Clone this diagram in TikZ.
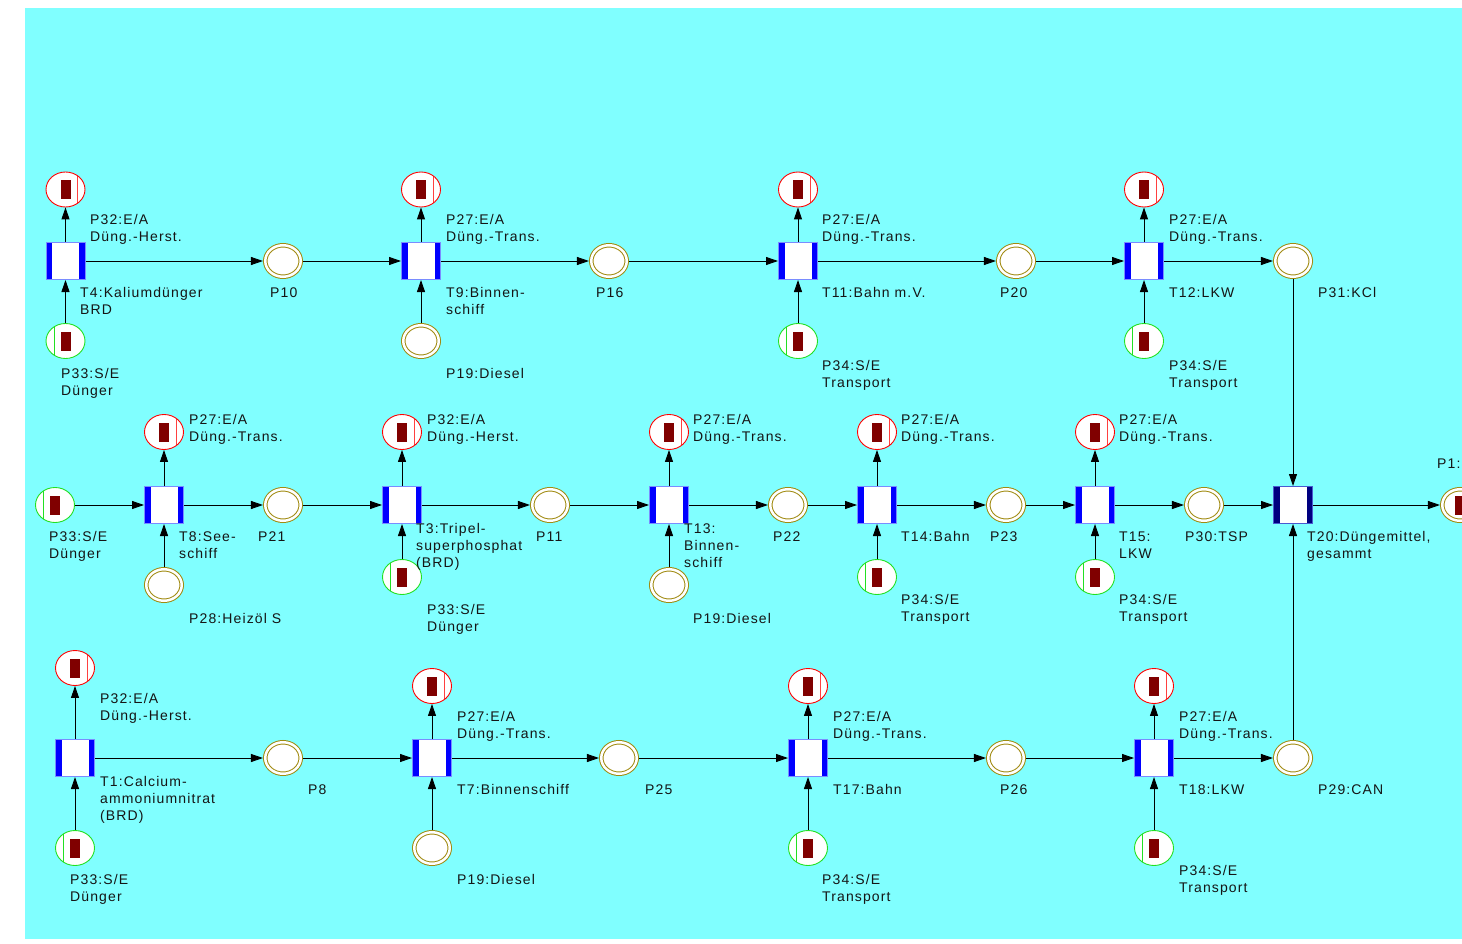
\documentclass[tikz,border=0pt]{standalone}
\usepackage{fontspec}
\setmainfont{Liberation Sans}[LetterSpace=8]
\usetikzlibrary{shapes.geometric,arrows.meta}
\definecolor{bgcyan}{HTML}{80FFFF}
\definecolor{tokred}{HTML}{800000}
\definecolor{olivec}{HTML}{A08A10}
\definecolor{tbar}{HTML}{0000FF}
\definecolor{tborder}{HTML}{7A8CFF}
\definecolor{navybar}{HTML}{000080}
\definecolor{navyborder}{HTML}{4A5AD0}
\definecolor{placegreen}{HTML}{22E022}
\definecolor{txt}{HTML}{151515}
\tikzset{
  trans/.style={rectangle, minimum width=39pt, minimum height=37pt, inner sep=0pt,
    draw=tborder, line width=1pt, fill=white,
    path picture={
      \fill[tbar] (path picture bounding box.south west) rectangle ([xshift=6pt]path picture bounding box.north west);
      \fill[tbar] (path picture bounding box.south east) rectangle ([xshift=-6pt]path picture bounding box.north east);}},
  sumtrans/.style={trans, draw=navyborder,
    path picture={
      \fill[navybar] (path picture bounding box.south west) rectangle ([xshift=6pt]path picture bounding box.north west);
      \fill[navybar] (path picture bounding box.south east) rectangle ([xshift=-6pt]path picture bounding box.north east);}},
  tokenbar/.style={path picture={
      \fill[tokred] ([shift={(-5pt,-9.5pt)}]path picture bounding box.center) rectangle ([shift={(5pt,9.5pt)}]path picture bounding box.center);}},
  placeE/.style={ellipse, minimum width=39pt, minimum height=35pt, inner sep=0pt,
    draw=red, line width=0.9pt, fill=white,
    path picture={
      \fill[tokred] ([shift={(-5pt,-9.5pt)}]path picture bounding box.center) rectangle ([shift={(5pt,9.5pt)}]path picture bounding box.center);
      \draw[red!75, line width=0.9pt] ([shift={(12pt,-20pt)}]path picture bounding box.center) -- ([shift={(12pt,20pt)}]path picture bounding box.center);}},
  placeS/.style={ellipse, minimum width=39pt, minimum height=35pt, inner sep=0pt,
    draw=placegreen, line width=0.9pt, fill=white,
    path picture={
      \fill[tokred] ([shift={(-5pt,-9.5pt)}]path picture bounding box.center) rectangle ([shift={(5pt,9.5pt)}]path picture bounding box.center);
      \draw[placegreen, line width=0.9pt] ([shift={(-11.5pt,-20pt)}]path picture bounding box.center) -- ([shift={(-11.5pt,20pt)}]path picture bounding box.center);}},
  placeP/.style={ellipse, minimum width=35.5pt, minimum height=31.5pt, inner sep=0pt,
    draw=olivec, line width=1pt, double=white, double distance=2.5pt, fill=white, outer sep=2.3pt},
  arc/.style={draw=black, line width=0.9pt, -{Triangle[length=12pt,width=8pt]}},
  % the base anchor of a multi-line label sits on its last line
  lab/.style={anchor=base west, inner sep=0pt, align=left, text=txt,
    font=\fontsize{14}{17}\selectfont},
}
\begin{document}
\begin{tikzpicture}[x=1pt,y=-1pt]
\useasboundingbox (0,0) rectangle (1462,944);
\clip (0,0) rectangle (1462,944);
\fill[bgcyan] (25,8) rectangle (1462,939);

% ---- upper line: potash fertiliser ----
\node[trans]  (t4)   at (65.5,261) {};
\node[placeE] (p32a) at (65.5,189.5) {};
\node[placeS] (p33a) at (65.5,341) {};
\node[placeP] (p10)  at (283,261) {};
\node[trans]  (t9)   at (421,261) {};
\node[placeE] (p27a) at (421,189.5) {};
\node[placeP] (p19a) at (421,341) {};
\node[placeP] (p16)  at (609,261) {};
\node[trans]  (t11)  at (798,261) {};
\node[placeE] (p27b) at (798,189.5) {};
\node[placeS] (p34a) at (798,341) {};
\node[placeP] (p20)  at (1016,261) {};
\node[trans]  (t12)  at (1144,261) {};
\node[placeE] (p27c) at (1144,189.5) {};
\node[placeS] (p34b) at (1144,341) {};
\node[placeP] (p31)  at (1293,261) {};

\node[lab] (lp32a) at (90,241) {P32:E/A\\Düng.-Herst.};
\node[lab] (lt4)   at (80,314) {T4:Kaliumdünger\\BRD};
\node[lab] (lp33a) at (61,395) {P33:S/E\\Dünger};
\node[lab] (lp10)  at (270,297) {P10};
\node[lab] (lp27a) at (446,241) {P27:E/A\\Düng.-Trans.};
\node[lab] (lt9)   at (446,314) {T9:Binnen-\\schiff};
\node[lab] (lp19a) at (446,378) {P19:Diesel};
\node[lab] (lp16)  at (596,297) {P16};
\node[lab] (lp27b) at (822,241) {P27:E/A\\Düng.-Trans.};
\node[lab] (lt11)  at (822,297) {T11:Bahn m.V.};
\node[lab] (lp34a) at (822,387) {P34:S/E\\Transport};
\node[lab] (lp20)  at (1000,297) {P20};
\node[lab] (lp27c) at (1169,241) {P27:E/A\\Düng.-Trans.};
\node[lab] (lt12)  at (1169,297) {T12:LKW};
\node[lab] (lp34b) at (1169,387) {P34:S/E\\Transport};
\node[lab] (lp31)  at (1318,297) {P31:KCl};

% ---- middle line: triple superphosphate ----
\node[placeS] (p33b) at (55,505) {};
\node[trans]  (t8)   at (164,505) {};
\node[placeE] (p27d) at (164,432) {};
\node[placeP] (p28)  at (164,585) {};
\node[placeP] (p21)  at (283,505) {};
\node[trans]  (t3)   at (402,505) {};
\node[placeE] (p32b) at (402,432) {};
\node[placeS] (p33c) at (402,577) {};
\node[placeP] (p11)  at (550,505) {};
\node[trans]  (t13)  at (669,505) {};
\node[placeE] (p27e) at (669,432) {};
\node[placeP] (p19b) at (669,585) {};
\node[placeP] (p22)  at (788,505) {};
\node[trans]  (t14)  at (877,505) {};
\node[placeE] (p27f) at (877,432) {};
\node[placeS] (p34c) at (877,577) {};
\node[placeP] (p23)  at (1006,505) {};
\node[trans]  (t15)  at (1095,505) {};
\node[placeE] (p27g) at (1095,432) {};
\node[placeS] (p34d) at (1095,577) {};
\node[placeP] (p30)  at (1204,505) {};
\node[sumtrans] (t20) at (1293,505) {};
\node[placeP, tokenbar] (p1) at (1460,505) {};

\node[lab] (lp33b) at (49,558) {P33:S/E\\Dünger};
\node[lab] (lp27d) at (189,441) {P27:E/A\\Düng.-Trans.};
\node[lab] (lt8)   at (179,558) {T8:See-\\schiff};
\node[lab] (lp28)  at (189,623) {P28:Heizöl S};
\node[lab] (lp21)  at (258,541) {P21};
\node[lab] (lp32b) at (427,441) {P32:E/A\\Düng.-Herst.};
\node[lab] (lt3)   at (416,567) {T3:Tripel-\\superphosphat\\(BRD)};
\node[lab] (lp33c) at (427,631) {P33:S/E\\Dünger};
\node[lab] (lp11)  at (536,541) {P11};
\node[lab] (lp27e) at (693,441) {P27:E/A\\Düng.-Trans.};
\node[lab] (lt13)  at (684,567) {T13:\\Binnen-\\schiff};
\node[lab] (lp19b) at (693,623) {P19:Diesel};
\node[lab] (lp22)  at (773,541) {P22};
\node[lab] (lp27f) at (901,441) {P27:E/A\\Düng.-Trans.};
\node[lab] (lt14)  at (901,541) {T14:Bahn};
\node[lab] (lp34c) at (901,621) {P34:S/E\\Transport};
\node[lab] (lp23)  at (990,541) {P23};
\node[lab] (lp27g) at (1119,441) {P27:E/A\\Düng.-Trans.};
\node[lab] (lt15)  at (1119,558) {T15:\\LKW};
\node[lab] (lp34d) at (1119,621) {P34:S/E\\Transport};
\node[lab] (lp30)  at (1185,541) {P30:TSP};
\node[lab] (lt20)  at (1307,558) {T20:Düngemittel,\\gesammt};
\node[lab] (lp1)   at (1437,468) {P1:};

% ---- lower line: calcium ammonium nitrate ----
\node[trans]  (t1)   at (75,758) {};
\node[placeE] (p32c) at (75,668) {};
\node[placeS] (p33d) at (75,848) {};
\node[placeP] (p8)   at (283,758) {};
\node[trans]  (t7)   at (432,758) {};
\node[placeE] (p27h) at (432,686) {};
\node[placeP] (p19c) at (432,848) {};
\node[placeP] (p25)  at (619,758) {};
\node[trans]  (t17)  at (808,758) {};
\node[placeE] (p27i) at (808,686) {};
\node[placeS] (p34e) at (808,848) {};
\node[placeP] (p26)  at (1006,758) {};
\node[trans]  (t18)  at (1154,758) {};
\node[placeE] (p27j) at (1154,686) {};
\node[placeS] (p34f) at (1154,848) {};
\node[placeP] (p29)  at (1293,758) {};

\node[lab] (lp32c) at (100,720) {P32:E/A\\Düng.-Herst.};
\node[lab] (lt1)   at (100,820) {T1:Calcium-\\ammoniumnitrat\\(BRD)};
\node[lab] (lp33d) at (70,901) {P33:S/E\\Dünger};
\node[lab] (lp8)   at (308,794) {P8};
\node[lab] (lp27h) at (457,738) {P27:E/A\\Düng.-Trans.};
\node[lab] (lt7)   at (457,794) {T7:Binnenschiff};
\node[lab] (lp19c) at (457,884) {P19:Diesel};
\node[lab] (lp25)  at (645,794) {P25};
\node[lab] (lp27i) at (833,738) {P27:E/A\\Düng.-Trans.};
\node[lab] (lt17)  at (833,794) {T17:Bahn};
\node[lab] (lp34e) at (822,901) {P34:S/E\\Transport};
\node[lab] (lp26)  at (1000,794) {P26};
\node[lab] (lp27j) at (1179,738) {P27:E/A\\Düng.-Trans.};
\node[lab] (lt18)  at (1179,794) {T18:LKW};
\node[lab] (lp34f) at (1179,892) {P34:S/E\\Transport};
\node[lab] (lp29)  at (1318,794) {P29:CAN};

% ---- arcs ----
\draw[arc] (t4) -- (p32a);
\draw[arc] (p33a) -- (t4);
\draw[arc] (t4) -- (p10);
\draw[arc] (p10) -- (t9);
\draw[arc] (t9) -- (p27a);
\draw[arc] (p19a) -- (t9);
\draw[arc] (t9) -- (p16);
\draw[arc] (p16) -- (t11);
\draw[arc] (t11) -- (p27b);
\draw[arc] (p34a) -- (t11);
\draw[arc] (t11) -- (p20);
\draw[arc] (p20) -- (t12);
\draw[arc] (t12) -- (p27c);
\draw[arc] (p34b) -- (t12);
\draw[arc] (t12) -- (p31);
\draw[arc] (p31) -- (t20);

\draw[arc] (p33b) -- (t8);
\draw[arc] (t8) -- (p27d);
\draw[arc] (p28) -- (t8);
\draw[arc] (t8) -- (p21);
\draw[arc] (p21) -- (t3);
\draw[arc] (t3) -- (p32b);
\draw[arc] (p33c) -- (t3);
\draw[arc] (t3) -- (p11);
\draw[arc] (p11) -- (t13);
\draw[arc] (t13) -- (p27e);
\draw[arc] (p19b) -- (t13);
\draw[arc] (t13) -- (p22);
\draw[arc] (p22) -- (t14);
\draw[arc] (t14) -- (p27f);
\draw[arc] (p34c) -- (t14);
\draw[arc] (t14) -- (p23);
\draw[arc] (p23) -- (t15);
\draw[arc] (t15) -- (p27g);
\draw[arc] (p34d) -- (t15);
\draw[arc] (t15) -- (p30);
\draw[arc] (p30) -- (t20);
\draw[arc] (t20) -- (p1);

\draw[arc] (t1) -- (p32c);
\draw[arc] (p33d) -- (t1);
\draw[arc] (t1) -- (p8);
\draw[arc] (p8) -- (t7);
\draw[arc] (t7) -- (p27h);
\draw[arc] (p19c) -- (t7);
\draw[arc] (t7) -- (p25);
\draw[arc] (p25) -- (t17);
\draw[arc] (t17) -- (p27i);
\draw[arc] (p34e) -- (t17);
\draw[arc] (t17) -- (p26);
\draw[arc] (p26) -- (t18);
\draw[arc] (t18) -- (p27j);
\draw[arc] (p34f) -- (t18);
\draw[arc] (t18) -- (p29);
\draw[arc] (p29) -- (t20);
\end{tikzpicture}
\end{document}
